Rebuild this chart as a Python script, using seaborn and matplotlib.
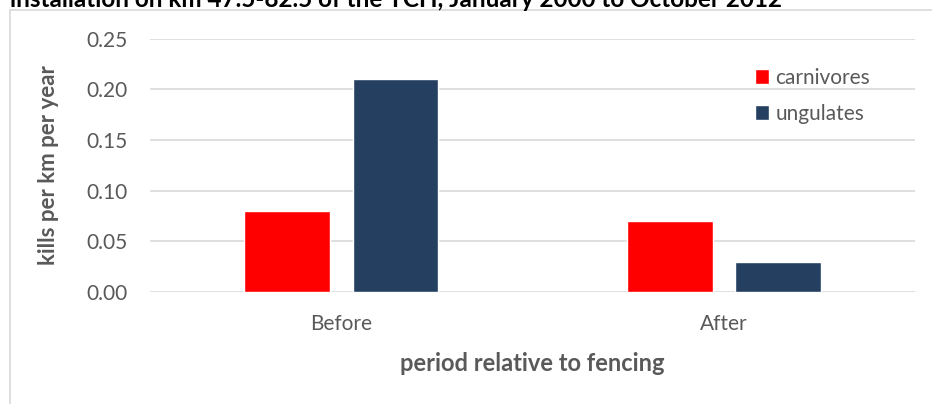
import pandas as pd
import matplotlib.pyplot as plt
import matplotlib.patches as patches
import seaborn as sns

# data
periods = ["Before", "After"]
groups = ["carnivores", "ungulates"]
carnivores = [0.08, 0.07]
ungulates = [0.21, 0.03]
yticks = [0.00, 0.05, 0.10, 0.15, 0.20, 0.25]

titulo = "installation on km 47.5-82.5 of the TCH, January 2000 to October 2012"
cores = ["#FF0000", "#243F60"]
cinza = "#595959"

df = pd.DataFrame({
    "period": periods * 2,
    "group": [groups[0]] * 2 + [groups[1]] * 2,
    "kills": carnivores + ungulates,
})

sns.set_theme(style="white")
plt.rcParams["font.family"] = ["Lato", "DejaVu Sans"]

fig = plt.figure(figsize=(9.32, 4.04), dpi=100)
ax = fig.add_axes([0.161, 0.277, 0.821, 0.627])

sns.barplot(data=df, x="period", y="kills", hue="group", order=periods,
            hue_order=groups, palette=cores, width=0.567, gap=0.21,
            saturation=1, ax=ax)

ax.set_ylim(0, 0.25)
ax.set_yticks(yticks)
ax.set_yticklabels([f"{v:.2f}" for v in yticks])
ax.yaxis.grid(True, color="#D9D9D9", linewidth=1.2)
ax.set_axisbelow(True)
for s in ax.spines.values():
    s.set_visible(False)
ax.tick_params(axis="both", length=0, labelsize=15, colors=cinza)
ax.tick_params(axis="y", pad=16)
ax.tick_params(axis="x", pad=16)

ax.set_ylabel("kills per km per year", fontsize=16, fontweight="bold",
              color=cinza, labelpad=20)
ax.set_xlabel("period relative to fencing", fontsize=17, fontweight="bold",
              color=cinza, labelpad=13)

leg = ax.legend(loc="upper left", bbox_to_anchor=(0.79, 0.885), frameon=False,
                borderpad=0, borderaxespad=0,
                fontsize=15, handlelength=0.7, handleheight=0.7,
                handletextpad=0.3, labelspacing=0.75)
for t in leg.get_texts():
    t.set_color(cinza)

# moldura do gráfico e título cortado no topo
fig.patches.append(patches.Rectangle((10 / 932, -0.1), 1.0, 1 - 10 / 404 + 0.1,
                                     transform=fig.transFigure, fill=False,
                                     edgecolor="#D9D9D9", linewidth=1.2))
fig.text(10 / 932, 1 - 7 / 404, titulo, fontsize=17.5, fontweight="bold",
         color="black", va="baseline", ha="left")

fig.savefig("out.png", dpi=100)
